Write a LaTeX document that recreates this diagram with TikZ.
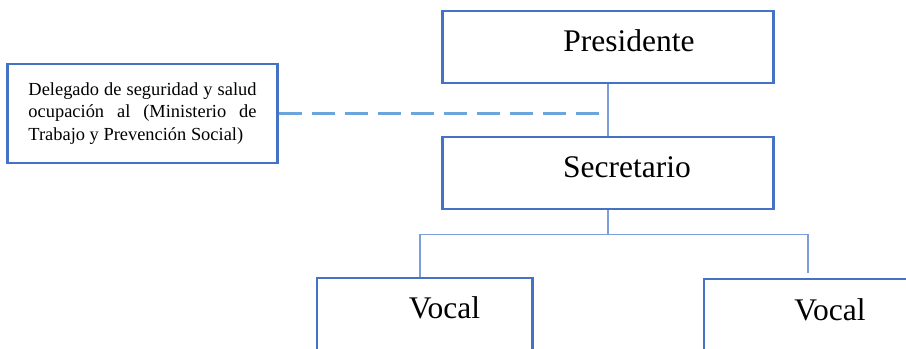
\documentclass[tikz,border=0pt]{standalone}
\usepackage{fontspec}
\setmainfont{Liberation Serif}
\usetikzlibrary{positioning}
\definecolor{cajaazul}{RGB}{68,114,196}
\definecolor{lineaazul}{RGB}{125,158,218}
\definecolor{trazoazul}{RGB}{108,164,220}

\begin{document}
\begin{tikzpicture}[x=0.025cm,y=-0.025cm,
    caja/.style={draw=cajaazul,line width=2.1pt,minimum width=8.275cm,minimum height=1.8cm,inner sep=0pt},
    vocalcaja/.style={caja,minimum width=5.375cm},
    titulo/.style={anchor=base,font=\fontsize{22.4}{27}\selectfont},
    enlace/.style={draw=lineaazul,line width=1.1pt}]
    \path[use as bounding box,clip] (0,0) rectangle (906,348);

    % cajas
    \node[caja] (presidente) at (608,47) {};
    \node[caja] (secretario) at (608,173) {};
    \node[vocalcaja] (vocal1) at (424.5,314) {};
    \node[vocalcaja] (vocal2) at (811.5,315) {};
    \node[caja,minimum width=6.725cm,minimum height=2.475cm,text width=5.7cm,align=justify,
        font=\fontsize{13.1}{16}\selectfont] (delegado) at (142.5,113.5)
        {Delegado de seguridad y salud\linebreak ocupación al (Ministerio de\linebreak Trabajo y Prevención Social)};

    % textos
    \node[titulo] (tpresidente) at ([shift={(21,5)}]presidente.center) {Presidente};
    \node[titulo] (tsecretario) at ([shift={(19,4)}]secretario.center) {Secretario};
    \node[titulo] (tvocal1) at ([shift={(20,4)}]vocal1.center) {Vocal};
    \node[titulo] (tvocal2) at ([shift={(18.5,5)}]vocal2.center) {Vocal};

    % enlaces
    \draw[enlace] (presidente.south) -- (secretario.north);
    \draw[draw=trazoazul,line width=2pt,dash pattern=on 0.575cm off 0.25cm]
        (delegado.east) -- (delegado.east -| presidente.south);
    \draw[enlace] (secretario.south) -- ++(0,24) coordinate (bus);
    \draw[enlace,shorten >=0.12cm] ([xshift=-0.11cm]vocal1.north) |- (bus) -| ([xshift=-0.09cm]vocal2.north);
\end{tikzpicture}
\end{document}
